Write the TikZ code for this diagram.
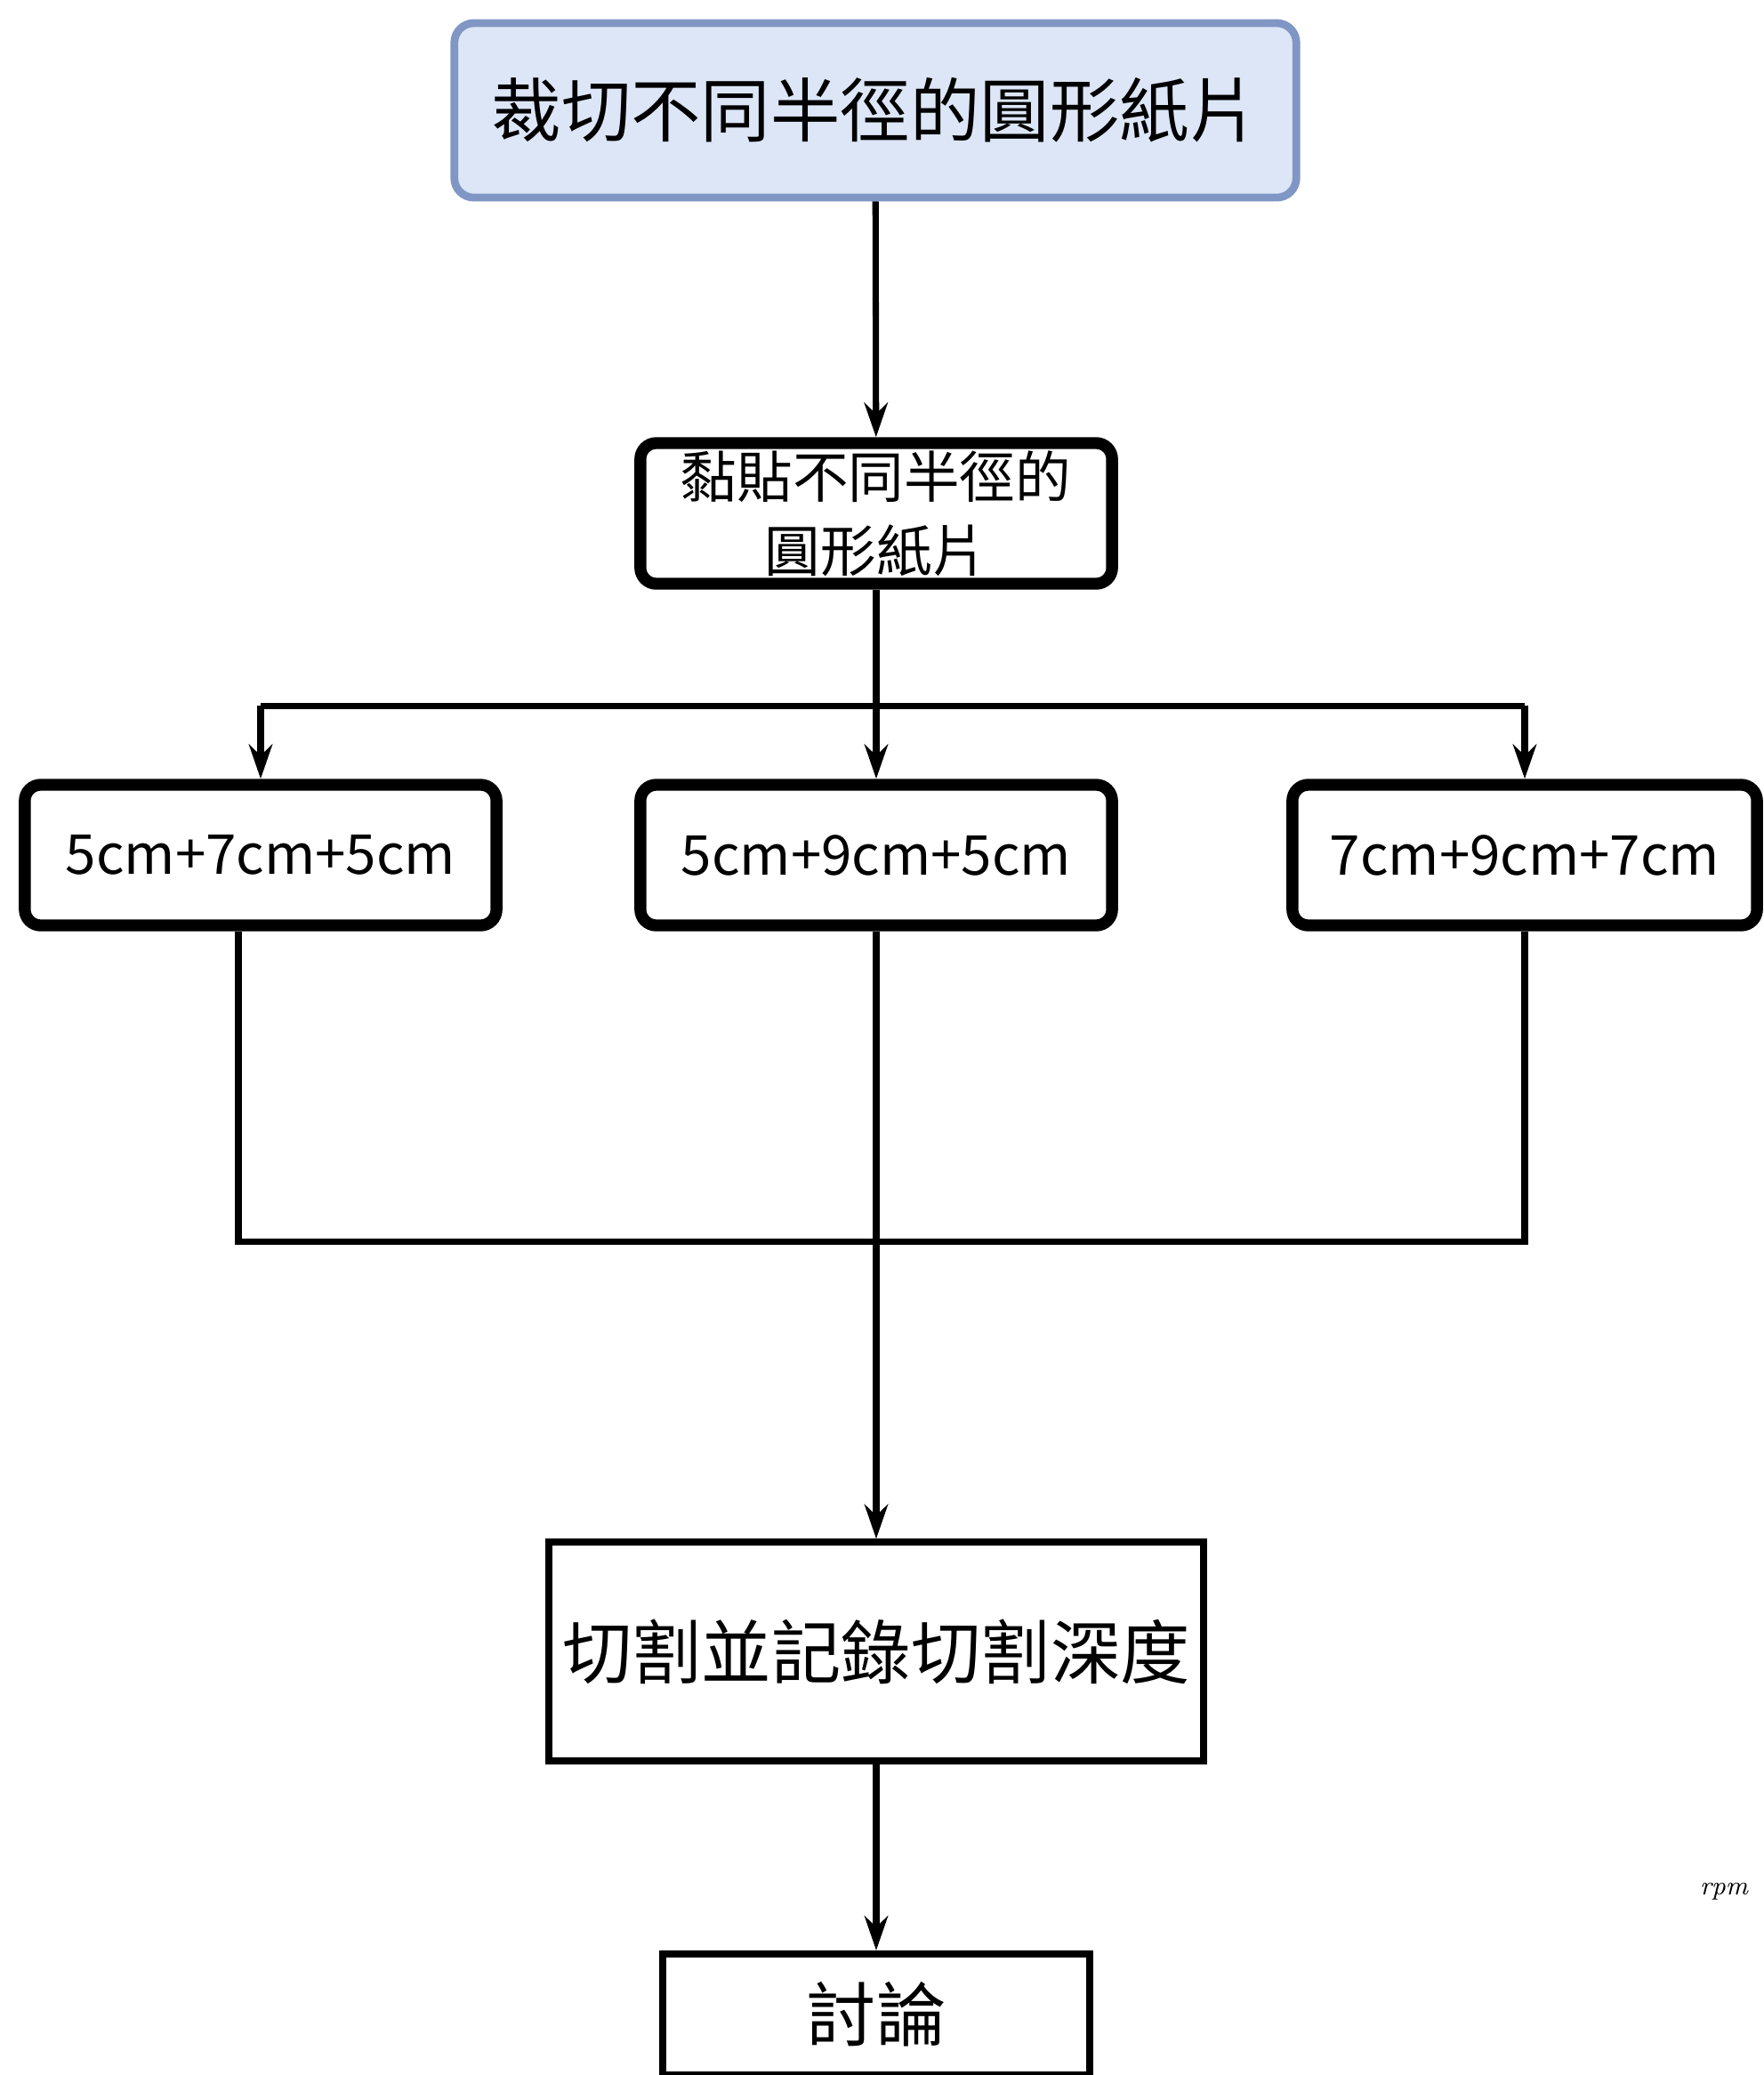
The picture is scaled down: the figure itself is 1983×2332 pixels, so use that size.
\documentclass[tikz,border=0pt]{standalone}
\usepackage{fontspec}
\newfontfamily\cjkfont{Noto Sans CJK TC}
\usetikzlibrary{arrows.meta,positioning,calc}
\definecolor{boxblue}{RGB}{220,230,246}
\definecolor{lineblue}{RGB}{128,150,196}

\begin{document}
\begin{tikzpicture}[
    x = 0.01cm, y = -0.01cm,
    > = {Stealth[length=11pt, width=7.5pt]},
    line width = 2pt,
    startbox/.style={draw=lineblue, fill=boxblue, rounded corners=0.22cm, line width=2.5pt,
        minimum width=9.46cm, minimum height=1.96cm, inner sep=0pt,
        font=\cjkfont\fontsize{22.3}{26}\selectfont},
    roundbox/.style={draw, rounded corners=0.18cm, line width=3.8pt,
        minimum width=5.3cm, minimum height=1.58cm, inner sep=0pt, align=center,
        font=\cjkfont\fontsize{17.6}{22}\selectfont},
    plainbox/.style={draw, line width=2.3pt, inner sep=0pt,
        font=\cjkfont\fontsize{22.3}{26}\selectfont}
]
    \useasboundingbox (0,0) rectangle (1983,2332);

    \node[startbox] (cut) at (984,124) {裁切不同半徑的圓形紙片};
    \node[roundbox, font=\cjkfont\fontsize{17.8}{23.5}\selectfont] (stick) at (985,577)
        {黏貼不同半徑的\\圓形紙片};

    % three radius groups
    \node[roundbox] (r1) at (293,961) {5cm+7cm+5cm};
    \node[roundbox] (r2) at (985,961) {5cm+9cm+5cm};
    \node[roundbox, minimum width=5.22cm] (r3) at (1714,961) {7cm+9cm+7cm};

    \node[plainbox, minimum width=7.35cm, minimum height=2.45cm] (depth) at (985,1856)
        {切割並記錄切割深度};
    \node[plainbox, minimum width=4.79cm, minimum height=1.36cm] (talk) at (985,2264)
        {討論};

    \node[font=\itshape\fontsize{8.5}{10}\selectfont] (unit) at (1938,2126) {rpm};

    \coordinate (split) at (985,793);
    \coordinate (merge) at (985,1395);

    \draw[->] (cut) -- (stick);
    \draw (stick.south) -- (split);
    \draw (split -| r1) -- (split -| r3);
    \foreach \r in {r1,r2,r3}
        \draw[->] (split -| \r) -- (\r.north);

    \draw ([xshift=-0.25cm]r1.south) |- (r3 |- merge) -- (r3.south);
    \draw[->] (r2.south) -- (depth.north);
    \draw[->] (depth) -- (talk);
\end{tikzpicture}
\end{document}
